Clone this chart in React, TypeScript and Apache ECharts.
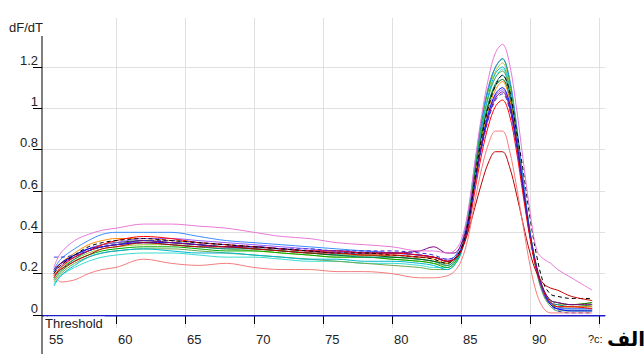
import React, { useEffect, useRef } from "react";
import * as echarts from "echarts";

// Temperatures (°C) at which each curve is sampled
const temps = [55.5, 56, 57, 58, 59, 60, 62, 64, 66, 68, 70, 72, 74, 76, 78, 80, 82, 83, 84, 84.5, 85, 85.5, 86, 86.5, 87, 87.5, 88, 88.5, 89, 89.5, 90, 90.5, 91, 91.5, 92, 93, 94.5];

const xTicks = [55, 60, 65, 70, 75, 80, 85, 90, 95];
const xLabels = [55, 60, 65, 70, 75, 80, 85, 90];
const yTicks = [0, 0.2, 0.4, 0.6, 0.8, 1, 1.2];
const thresholdValue = -0.004;

// dF/dT curves
const pink = [0.23, 0.30, 0.36, 0.39, 0.41, 0.42, 0.44, 0.44, 0.43, 0.42, 0.40, 0.38, 0.37, 0.35, 0.34, 0.33, 0.31, 0.31, 0.30, 0.31, 0.36, 0.50, 0.74, 0.97, 1.15, 1.27, 1.31, 1.22, 1.01, 0.75, 0.50, 0.31, 0.27, 0.25, 0.22, 0.18, 0.12];
const salmon = [0.20, 0.16, 0.17, 0.20, 0.22, 0.23, 0.27, 0.25, 0.24, 0.25, 0.23, 0.22, 0.22, 0.21, 0.21, 0.20, 0.18, 0.18, 0.19, 0.21, 0.26, 0.37, 0.55, 0.71, 0.83, 0.89, 0.89, 0.80, 0.63, 0.43, 0.24, 0.10, 0.03, 0.01, 0.01, 0.01, 0.01];
const darkRed = [0.19, 0.22, 0.26, 0.29, 0.32, 0.33, 0.35, 0.34, 0.33, 0.33, 0.32, 0.31, 0.30, 0.30, 0.29, 0.29, 0.28, 0.28, 0.26, 0.27, 0.31, 0.40, 0.52, 0.64, 0.74, 0.79, 0.79, 0.72, 0.59, 0.44, 0.30, 0.20, 0.15, 0.13, 0.12, 0.09, 0.07];
const blackDash = [0.20, 0.24, 0.29, 0.33, 0.35, 0.36, 0.37, 0.36, 0.35, 0.34, 0.33, 0.32, 0.31, 0.30, 0.30, 0.29, 0.28, 0.27, 0.25, 0.27, 0.32, 0.44, 0.66, 0.86, 1.01, 1.11, 1.16, 1.09, 0.90, 0.70, 0.47, 0.28, 0.15, 0.10, 0.09, 0.08, 0.08];
const red = [0.18, 0.23, 0.28, 0.31, 0.34, 0.36, 0.38, 0.37, 0.35, 0.34, 0.33, 0.32, 0.31, 0.31, 0.30, 0.30, 0.29, 0.28, 0.26, 0.27, 0.31, 0.41, 0.60, 0.78, 0.92, 1.01, 1.04, 0.97, 0.80, 0.58, 0.37, 0.21, 0.11, 0.06, 0.04, 0.04, 0.03];
const green = [0.17, 0.21, 0.26, 0.29, 0.31, 0.32, 0.33, 0.33, 0.32, 0.31, 0.31, 0.30, 0.29, 0.28, 0.28, 0.27, 0.26, 0.25, 0.23, 0.25, 0.31, 0.46, 0.71, 0.94, 1.10, 1.20, 1.24, 1.14, 0.92, 0.65, 0.39, 0.21, 0.10, 0.05, 0.04, 0.04, 0.05];
const blue = [0.21, 0.25, 0.29, 0.32, 0.33, 0.34, 0.35, 0.35, 0.34, 0.33, 0.33, 0.32, 0.31, 0.30, 0.30, 0.30, 0.29, 0.28, 0.26, 0.27, 0.31, 0.43, 0.64, 0.83, 0.98, 1.07, 1.10, 1.03, 0.85, 0.62, 0.39, 0.22, 0.11, 0.05, 0.03, 0.02, 0.02];
const cyan = [0.14, 0.19, 0.24, 0.28, 0.30, 0.31, 0.32, 0.31, 0.30, 0.30, 0.29, 0.28, 0.27, 0.27, 0.26, 0.26, 0.25, 0.24, 0.22, 0.24, 0.30, 0.45, 0.69, 0.91, 1.07, 1.17, 1.20, 1.11, 0.90, 0.64, 0.39, 0.21, 0.10, 0.05, 0.03, 0.03, 0.03];
const purple = [0.22, 0.25, 0.28, 0.31, 0.33, 0.34, 0.36, 0.35, 0.34, 0.33, 0.33, 0.32, 0.31, 0.31, 0.30, 0.30, 0.31, 0.33, 0.30, 0.30, 0.34, 0.45, 0.64, 0.82, 0.96, 1.05, 1.08, 1.01, 0.83, 0.60, 0.38, 0.22, 0.12, 0.07, 0.06, 0.05, 0.05];
const yellowGreen = [0.19, 0.23, 0.27, 0.30, 0.32, 0.33, 0.34, 0.34, 0.33, 0.32, 0.31, 0.30, 0.29, 0.28, 0.28, 0.27, 0.26, 0.25, 0.24, 0.26, 0.32, 0.47, 0.72, 0.94, 1.09, 1.18, 1.22, 1.12, 0.91, 0.65, 0.40, 0.22, 0.11, 0.06, 0.05, 0.05, 0.06];
const teal = [0.18, 0.22, 0.27, 0.31, 0.33, 0.34, 0.35, 0.34, 0.33, 0.32, 0.32, 0.31, 0.30, 0.29, 0.28, 0.28, 0.27, 0.26, 0.24, 0.26, 0.31, 0.45, 0.68, 0.88, 1.03, 1.12, 1.16, 1.08, 0.88, 0.63, 0.39, 0.22, 0.11, 0.06, 0.05, 0.04, 0.04];
const orange = [0.20, 0.25, 0.30, 0.34, 0.36, 0.37, 0.37, 0.36, 0.35, 0.34, 0.33, 0.32, 0.31, 0.30, 0.29, 0.29, 0.28, 0.27, 0.25, 0.27, 0.32, 0.44, 0.66, 0.85, 1.00, 1.09, 1.13, 1.05, 0.86, 0.62, 0.39, 0.22, 0.11, 0.06, 0.04, 0.04, 0.04];
const blueDash = [0.28, 0.28, 0.29, 0.31, 0.33, 0.34, 0.36, 0.36, 0.35, 0.34, 0.33, 0.32, 0.32, 0.31, 0.31, 0.31, 0.30, 0.29, 0.27, 0.28, 0.32, 0.43, 0.63, 0.81, 0.95, 1.04, 1.07, 1.00, 0.83, 0.61, 0.39, 0.22, 0.11, 0.05, 0.02, 0.01, 0.01];
const lightBlue = [0.22, 0.27, 0.32, 0.36, 0.39, 0.40, 0.40, 0.40, 0.38, 0.36, 0.35, 0.34, 0.33, 0.32, 0.31, 0.30, 0.29, 0.28, 0.26, 0.28, 0.34, 0.49, 0.73, 0.95, 1.11, 1.20, 1.24, 1.15, 0.93, 0.66, 0.40, 0.22, 0.11, 0.06, 0.04, 0.03, 0.03];
const olive = [0.16, 0.20, 0.25, 0.28, 0.30, 0.31, 0.32, 0.32, 0.31, 0.30, 0.29, 0.28, 0.27, 0.26, 0.25, 0.24, 0.23, 0.22, 0.22, 0.24, 0.30, 0.45, 0.70, 0.91, 1.06, 1.15, 1.18, 1.09, 0.88, 0.63, 0.38, 0.20, 0.09, 0.04, 0.02, 0.02, 0.02];
const violet = [0.20, 0.24, 0.28, 0.32, 0.34, 0.35, 0.37, 0.37, 0.36, 0.35, 0.34, 0.33, 0.32, 0.31, 0.31, 0.30, 0.29, 0.28, 0.27, 0.28, 0.32, 0.43, 0.63, 0.82, 0.97, 1.06, 1.09, 1.02, 0.84, 0.61, 0.38, 0.21, 0.10, 0.05, 0.03, 0.03, 0.03];
const darkGreen = [0.21, 0.25, 0.29, 0.32, 0.34, 0.35, 0.36, 0.35, 0.34, 0.33, 0.32, 0.31, 0.30, 0.29, 0.29, 0.28, 0.27, 0.26, 0.25, 0.27, 0.32, 0.45, 0.67, 0.87, 1.02, 1.11, 1.14, 1.06, 0.87, 0.63, 0.40, 0.23, 0.12, 0.07, 0.06, 0.05, 0.06];
const turquoise = [0.15, 0.19, 0.23, 0.26, 0.28, 0.29, 0.30, 0.30, 0.29, 0.28, 0.28, 0.27, 0.26, 0.26, 0.25, 0.25, 0.24, 0.23, 0.23, 0.25, 0.31, 0.46, 0.70, 0.91, 1.06, 1.15, 1.19, 1.10, 0.89, 0.64, 0.39, 0.21, 0.10, 0.05, 0.03, 0.02, 0.02];

const curves: { name: string; color: string; dashed: boolean; values: number[] }[] = [
  { name: "turquoise", color: "#3cdcd0", dashed: false, values: turquoise },
  { name: "olive", color: "#6aa84f", dashed: false, values: olive },
  { name: "cyan", color: "#00b8d0", dashed: false, values: cyan },
  { name: "yellowGreen", color: "#a8c83c", dashed: false, values: yellowGreen },
  { name: "green", color: "#00a800", dashed: false, values: green },
  { name: "teal", color: "#008080", dashed: false, values: teal },
  { name: "darkGreen", color: "#006400", dashed: false, values: darkGreen },
  { name: "orange", color: "#ff8c00", dashed: false, values: orange },
  { name: "violet", color: "#9a5cff", dashed: false, values: violet },
  { name: "lightBlue", color: "#3c8cff", dashed: false, values: lightBlue },
  { name: "blue", color: "#0000ff", dashed: false, values: blue },
  { name: "purple", color: "#800080", dashed: false, values: purple },
  { name: "red", color: "#ff0000", dashed: false, values: red },
  { name: "blueDash", color: "#3030d0", dashed: true, values: blueDash },
  { name: "blackDash", color: "#000000", dashed: true, values: blackDash },
  { name: "darkRed", color: "#c00000", dashed: false, values: darkRed },
  { name: "salmon", color: "#f47c7c", dashed: false, values: salmon },
  { name: "pink", color: "#e87ad8", dashed: false, values: pink },
];

const X_MIN = 54.64;
const X_MAX = 95.43;
const Y_MIN = -0.0629;
const Y_MAX = 1.4371;

const FONT = "'Liberation Sans', Arial, sans-serif";

export default function App() {
  const ref = useRef<HTMLDivElement>(null);
  useEffect(() => {
    document.body.style.margin = "0";
    const chart = echarts.init(ref.current!, null, { renderer: "svg" });
    const lineSeries: any[] = curves.map((c) => ({
      type: "line",
      name: c.name,
      data: temps.map((t, i) => [t, c.values[i]]),
      showSymbol: false,
      smooth: 0.35,
      lineStyle: { color: c.color, width: 1, type: c.dashed ? [4, 3] : "solid" },
      itemStyle: { color: c.color },
      silent: true,
      z: 3,
    }));
    lineSeries.push({
      type: "line",
      name: "Threshold",
      data: [
        [X_MIN, thresholdValue],
        [X_MAX, thresholdValue],
      ],
      showSymbol: false,
      lineStyle: { color: "#1c1cc8", width: 1.5 },
      silent: true,
      z: 2,
    });
    const option: any = {
      animation: false,
      backgroundColor: "#ffffff",
      grid: { left: 42, right: 39, top: 18, bottom: 26, containLabel: false },
      xAxis: {
        type: "value",
        min: X_MIN,
        max: X_MAX,
        axisLine: { show: true, lineStyle: { color: "#000", width: 1 } },
        axisTick: {
          show: true,
          customValues: xTicks,
          length: 9,
          lineStyle: { color: "#000", width: 1 },
        },
        axisLabel: {
          show: true,
          customValues: xLabels,
          align: "left",
          verticalAlign: "top",
          margin: 4,
          lineHeight: 14,
          padding: [0, 0, 0, 2],
          fontFamily: FONT,
          fontSize: 13,
          color: "#222",
          formatter: (v: number) => String(v),
        },
        splitLine: {
          show: true,
          lineStyle: {
            color: ["rgba(0,0,0,0)", "#e0e0e0", "#e0e0e0", "#e0e0e0", "#e0e0e0", "#e0e0e0", "#e0e0e0", "#e0e0e0", "#e0e0e0"],
            width: 1,
          },
        },
      },
      yAxis: {
        type: "value",
        min: Y_MIN,
        max: Y_MAX,
        axisLine: { show: false },
        axisTick: {
          show: true,
          customValues: yTicks,
          length: 9,
          lineStyle: { color: "#000", width: 1 },
        },
        axisLabel: {
          show: true,
          customValues: yTicks,
          verticalAlign: "bottom",
          align: "right",
          margin: 4,
          lineHeight: 14,
          fontFamily: FONT,
          fontSize: 13,
          color: "#222",
          formatter: (v: number) => String(Math.round(v * 10) / 10),
        },
        splitLine: { show: true, lineStyle: { color: "#e0e0e0", width: 1 } },
      },
      series: lineSeries,
      graphic: [
        {
          type: "line",
          shape: { x1: 42, y1: 36, x2: 42, y2: 354 },
          style: { stroke: "#000", lineWidth: 1 },
          z: 10,
        },
        {
          type: "text",
          x: 43,
          y: 27,
          style: {
            text: "dF/dT",
            align: "right",
            verticalAlign: "middle",
            fontFamily: FONT,
            fontSize: 13,
            fill: "#222",
          },
        },
        {
          type: "text",
          x: 44,
          y: 323,
          style: {
            text: "Threshold",
            align: "left",
            verticalAlign: "middle",
            fontFamily: FONT,
            fontSize: 13,
            fill: "#222",
            backgroundColor: "#ffffff",
            padding: [0, 2, 0, 1],
          },
          z: 20,
        },
        {
          type: "text",
          x: 588,
          y: 339,
          style: {
            text: "?c:",
            align: "left",
            verticalAlign: "middle",
            fontFamily: FONT,
            fontSize: 11,
            fill: "#222",
          },
        },
        {
          type: "text",
          x: 626,
          y: 339,
          style: {
            text: "الف",
            align: "center",
            verticalAlign: "middle",
            fontFamily: "'DejaVu Sans', sans-serif",
            fontWeight: "bold",
            fontSize: 20,
            fill: "#000",
          },
        },
      ],
    };
    chart.setOption(option);
    return () => chart.dispose();
  }, []);
  return (
    <div
      ref={ref}
      style={{ width: 644, height: 354, position: "absolute", left: 0, top: 0 }}
    />
  );
}
